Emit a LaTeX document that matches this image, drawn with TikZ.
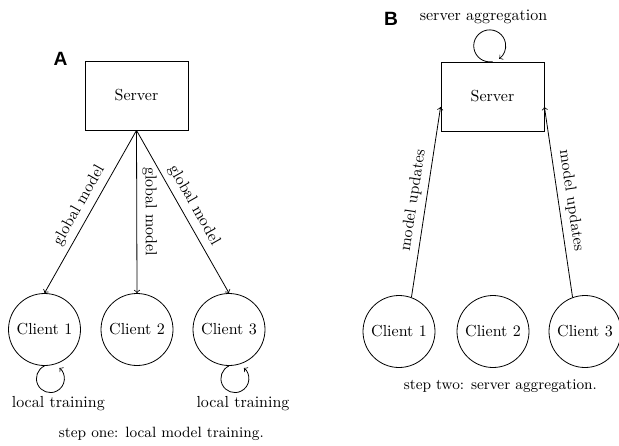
\documentclass[tikz,border=0pt]{standalone}
\usepackage{fontspec}
\newfontfamily\panelfont{Liberation Sans}
\usetikzlibrary{calc}
\begin{document}
\begin{tikzpicture}[x=0.625pt,y=0.625pt,
  box/.style={draw, line width=0.5pt, minimum width=64.4pt, minimum height=43.1pt, inner sep=0pt},
  client/.style={draw, circle, line width=0.5pt, minimum size=45pt, inner sep=0pt},
  conn/.style={->, line width=0.5pt},
  captext/.style={font=\fontsize{9.3}{11}\selectfont, anchor=base},
  panel/.style={font=\panelfont\bfseries\fontsize{12}{14}\selectfont}]
\useasboundingbox (0,0) rectangle (619,445);
% ---------- Panel A ----------
\node[panel] (labA) at (60.5,386) {A};
\node[box] (sA) at (136.5,349.5) {Server};
\node[client] (cA1) at (44.5,115.5) {Client 1};
\node[client] (cA2) at (137,115.5) {Client 2};
\node[client] (cA3) at (229,115.5) {Client 3};
\draw[conn] (sA.south) -- node[midway,sloped,above] (gm1) {global model} (cA1.north);
\draw[conn] (sA.south) -- node[midway,sloped,above] (gm2) {global model} (cA2.north);
\draw[conn] (sA.south) -- node[midway,sloped,above] (gm3) {global model} (cA3.north);
\draw[conn] (cA1.south) arc[start angle=115,end angle=410,radius=8.75pt];
\draw[conn] (cA3.south) arc[start angle=115,end angle=410,radius=8.75pt];
\node[anchor=base] (ltA1) at (58.3,37.7) {local training};
\node[anchor=base] (ltA3) at (243,37.7) {local training};
\node[captext] (capA) at (161.4,7.3) {step one: local model training.};
% ---------- Panel B ----------
\node[panel] (labB) at (391,426) {B};
\node (aggr) at (483.5,428.5) {server aggregation};
\node[box] (sB) at (492.5,348.5) {Server};
\node[client] (cB1) at (399,113.5) {Client 1};
\node[client] (cB2) at (493,113.5) {Client 2};
\node[client] (cB3) at (585,113.5) {Client 3};
\coordinate (tL) at ($(sB.south west)!0.35!(sB.north west)$);
\coordinate (tR) at ($(sB.south east)!0.35!(sB.north east)$);
\draw[conn] (cB1.70) -- node[midway,sloped,above] (mu1) {model updates} (tL);
\draw[conn] (cB3.110) -- node[midway,sloped,above] (mu3) {model updates} (tR);
\draw[conn] (sB.north) arc[start angle=-80,end angle=-414,radius=10pt];
\node[captext] (capB) at (500.4,56) {step two: server aggregation.};
\end{tikzpicture}
\end{document}
